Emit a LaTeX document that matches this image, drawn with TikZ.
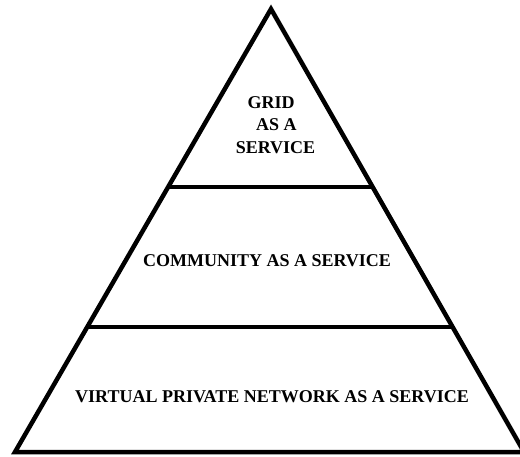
\documentclass[tikz,border=0pt]{standalone}
\usepackage{fontspec}
\setmainfont{Liberation Serif}
\usetikzlibrary{calc}

\tikzset{
  layer/.style={font=\bfseries\fontsize{18}{22.5}\selectfont, align=center, inner sep=0pt},
  edge/.style={line width=4.5pt, line join=miter}
}

\begin{document}
\begin{tikzpicture}[x=1pt, y=-1pt]
  \useasboundingbox (0,0) rectangle (520,456);

  % Wierzchołki piramidy
  \coordinate (top) at (271,9);
  \coordinate (bl) at (15,452);
  \coordinate (br) at (524,452);

  % Obrys
  \draw[edge] (top) -- (bl) -- (br) -- cycle;

  % Linie między warstwami
  \coordinate (l1) at ($(top)!0.402!(bl)$);
  \coordinate (r1) at ($(top)!0.402!(br)$);
  \coordinate (l2) at ($(top)!0.718!(bl)$);
  \coordinate (r2) at ($(top)!0.718!(br)$);
  \draw[edge, line width=4pt] (l1) -- (r1);
  \draw[edge, line width=4pt] (l2) -- (r2);

  % Podpisy warstw
  \node[layer] (grid) at (271,125) {GRID\\ \hspace*{0.6em}AS A\\ \hspace*{0.5em}SERVICE};
  \node[layer] (comm) at (267,261) {COMMUNITY AS A SERVICE};
  \node[layer] (vpn) at (272,397) {VIRTUAL PRIVATE NETWORK AS A SERVICE};
\end{tikzpicture}
\end{document}
